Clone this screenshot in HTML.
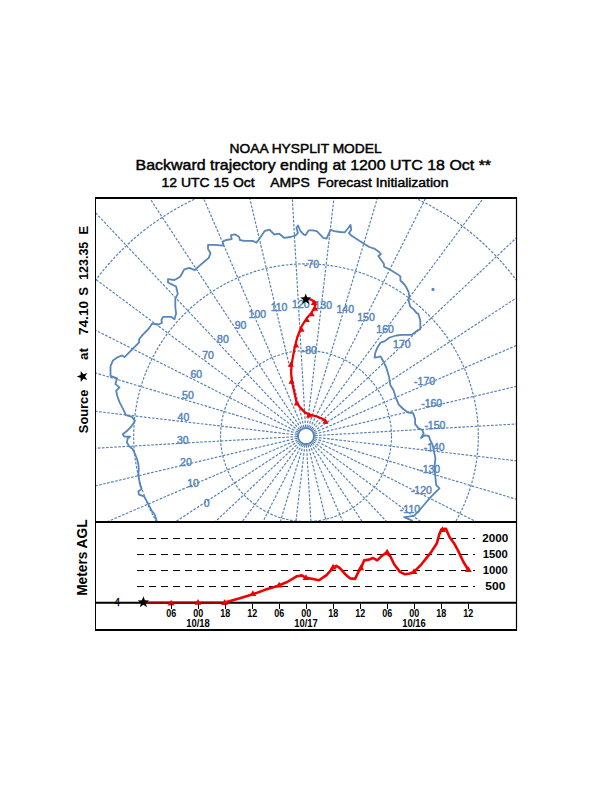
<!DOCTYPE html>
<html><head><meta charset="utf-8"><style>
html,body{margin:0;padding:0;background:#fff;width:612px;height:792px;overflow:hidden}
svg{display:block;font-family:"Liberation Sans",sans-serif}
</style></head><body><svg width="612" height="792" viewBox="0 0 612 792"><defs><clipPath id="mc"><rect x="96" y="199" width="420" height="322"/></clipPath></defs><g clip-path="url(#mc)"><g fill="none" stroke="#527fb3" stroke-width="1.15" stroke-dasharray="2.6 1.5"><circle cx="306.0" cy="436.1" r="85.5"/><circle cx="306.0" cy="436.1" r="172.3"/><circle cx="306.0" cy="436.1" r="261.8"/><circle cx="306.0" cy="436.1" r="355.6"/><line x1="298.5" y1="441.0" x2="-111.9" y2="710.6"/><line x1="297.7" y1="439.7" x2="-153.2" y2="633.9"/><line x1="297.2" y1="438.2" x2="-180.6" y2="551.1"/><line x1="297.0" y1="436.6" x2="-193.2" y2="464.9"/><line x1="297.1" y1="435.0" x2="-190.6" y2="377.8"/><line x1="297.4" y1="433.5" x2="-172.9" y2="292.4"/><line x1="298.0" y1="432.1" x2="-140.7" y2="211.4"/><line x1="298.8" y1="430.7" x2="-94.9" y2="137.3"/><line x1="299.8" y1="429.6" x2="-36.9" y2="72.2"/><line x1="301.1" y1="428.6" x2="31.5" y2="18.2"/><line x1="302.4" y1="427.8" x2="108.2" y2="-23.1"/><line x1="303.9" y1="427.3" x2="191.0" y2="-50.5"/><line x1="305.5" y1="427.1" x2="277.2" y2="-63.1"/><line x1="307.1" y1="427.2" x2="364.3" y2="-60.5"/><line x1="308.6" y1="427.5" x2="449.7" y2="-42.8"/><line x1="310.0" y1="428.1" x2="530.7" y2="-10.6"/><line x1="311.4" y1="428.9" x2="604.8" y2="35.2"/><line x1="312.5" y1="429.9" x2="669.9" y2="93.2"/><line x1="313.5" y1="431.2" x2="723.9" y2="161.6"/><line x1="314.3" y1="432.5" x2="765.2" y2="238.3"/><line x1="314.8" y1="434.0" x2="792.6" y2="321.1"/><line x1="315.0" y1="435.6" x2="805.2" y2="407.3"/><line x1="314.9" y1="437.2" x2="802.6" y2="494.4"/><line x1="314.6" y1="438.7" x2="784.9" y2="579.8"/><line x1="314.0" y1="440.1" x2="752.7" y2="660.8"/><line x1="313.2" y1="441.5" x2="706.9" y2="734.9"/><line x1="312.2" y1="442.6" x2="648.9" y2="800.0"/><line x1="310.9" y1="443.6" x2="580.5" y2="854.0"/><line x1="309.6" y1="444.4" x2="503.8" y2="895.3"/><line x1="308.1" y1="444.9" x2="421.0" y2="922.7"/><line x1="306.5" y1="445.1" x2="334.8" y2="935.3"/><line x1="304.9" y1="445.0" x2="247.7" y2="932.7"/><line x1="303.4" y1="444.7" x2="162.3" y2="915.0"/><line x1="302.0" y1="444.1" x2="81.3" y2="882.8"/><line x1="300.6" y1="443.3" x2="7.2" y2="837.0"/><line x1="299.5" y1="442.3" x2="-57.9" y2="779.0"/></g><circle cx="306.0" cy="436.1" r="8.1" fill="none" stroke="#5886bb" stroke-width="1.9"/><polyline fill="none" stroke="#5886bb" stroke-width="1.8" stroke-linejoin="round" points="156.8,521.0 154.6,514.3 151.4,510.2 147.3,502.1 144.0,496.3 139.1,494.7 138.3,491.4 141.6,489.0 139.9,484.1 138.3,474.3 138.8,469.4 138.3,463.7 136.7,458.0 134.2,452.2 132.6,449.0 129.3,446.5 126.9,442.4 127.7,438.3 130.1,436.7 124.4,436.7 122.8,434.3 127.7,430.2 130.9,426.9 133.9,422.8 135.0,420.9 131.8,416.8 126.0,415.1 122.0,406.9 119.5,402.1 117.1,395.5 116.2,390.6 119.5,387.4 115.4,384.1 117.1,378.4 110.5,375.9 110.5,366.1 113.0,360.4 117.9,357.1 122.0,355.5 124.4,357.1 127.7,353.9 132.6,349.0 139.1,342.4 139.1,339.2 142.4,335.1 148.9,328.5 152.2,323.6 158.7,324.5 162.0,322.8 161.4,320.0 163.1,316.8 171.2,316.8 174.5,319.2 176.1,313.5 175.3,307.0 175.3,298.8 177.8,293.9 176.1,286.5 171.2,284.1 168.0,282.5 168.0,279.2 174.5,280.0 180.2,276.7 184.3,269.4 189.2,267.8 194.9,270.2 199.0,266.1 203.9,262.0 208.8,257.9 210.5,253.0 208.0,249.0 208.0,244.9 214.5,244.9 223.5,245.7 222.7,241.6 226.0,240.0 231.7,239.2 230.9,235.1 235.0,234.3 239.0,236.7 239.9,240.0 244.0,240.8 249.7,240.8 253.1,241.0 256.3,242.7 259.6,238.6 264.5,231.2 269.4,229.6 274.3,234.5 279.2,233.7 284.1,237.8 290.7,237.0 295.6,235.3 298.0,232.9 296.4,228.0 298.0,225.5 300.5,231.2 303.7,234.5 305.4,235.3 308.6,230.4 312.7,230.4 316.8,231.2 323.3,237.8 326.6,238.6 329.1,232.9 330.7,229.6 334.0,231.2 340.0,232.0 344.8,232.3 348.1,228.2 350.5,224.9 351.3,229.8 348.9,233.1 351.3,235.5 362.8,242.9 369.3,247.0 374.2,248.6 379.1,251.9 380.8,254.3 378.3,256.0 384.0,264.1 384.0,266.6 388.9,269.0 397.1,273.9 400.4,276.4 400.4,280.5 404.4,284.5 406.1,287.0 408.5,291.9 409.3,296.0 408.5,300.1 410.2,306.6 413.4,309.1 416.7,313.1 418.4,313.9 420.3,320.5 420.3,329.0 415.8,331.6 411.8,334.8 402.7,334.8 396.1,335.5 389.6,337.5 384.4,341.4 380.5,342.7 377.2,347.9 375.2,353.1 374.6,357.7 377.8,357.1 380.5,356.4 383.1,361.0 386.3,367.5 389.0,376.7 390.3,385.0 393.5,390.2 395.5,396.8 398.8,404.6 402.7,408.5 407.9,412.5 413.1,413.1 415.1,419.0 415.1,424.2 418.4,428.1 422.3,430.1 423.6,433.4 421.0,437.9 424.9,435.3 428.8,436.0 430.1,439.9 432.7,445.1 434.1,451.7 435.4,458.2 434.7,465.0 434.9,472.0 436.2,485.1 439.5,488.3 434.9,492.9 429.7,498.1 423.1,506.0 418.6,511.2 414.0,515.8 404.2,517.1 408.8,519.1 412.7,521.0"/><circle cx="433" cy="289.4" r="1.6" fill="#5886bb"/><g font-size="10.5" fill="#5886bb" stroke="#5886bb" stroke-width="0.45" text-anchor="end"><text x="209.5" y="506.8">0</text><text x="198.9" y="487.1">10</text><text x="191.8" y="465.8">20</text><text x="188.6" y="443.6">30</text><text x="189.3" y="421.2">40</text><text x="193.8" y="399.2">50</text><text x="202.1" y="378.4">60</text><text x="213.9" y="359.3">70</text><text x="228.8" y="342.6">80</text><text x="246.4" y="328.7">90</text><text x="266.1" y="318.1">100</text><text x="287.4" y="311.0">110</text><text x="309.6" y="307.8">120</text><text x="332.0" y="308.5">130</text><text x="354.0" y="313.0">140</text><text x="374.8" y="321.3">150</text><text x="393.9" y="333.1">160</text><text x="410.6" y="348.0">170</text><text x="435.1" y="385.3">&#8208;170</text><text x="442.2" y="406.6">&#8208;160</text><text x="445.4" y="428.8">&#8208;150</text><text x="444.7" y="451.2">&#8208;140</text><text x="440.2" y="473.2">&#8208;130</text><text x="431.9" y="494.0">&#8208;120</text><text x="420.1" y="513.1">&#8208;110</text><text x="319.2" y="267.5">&#8208;70</text><text x="316.9" y="354">&#8208;80</text></g></g><polyline fill="none" stroke="#f00000" stroke-width="2.3" stroke-linejoin="round" stroke-linecap="round" points="305.8,298.7 311.2,299.6 315.5,302.5 314.8,307.0 311.0,313.5 307.0,317.8 301.7,326.1 297.2,337.5 294.6,348.0 293.1,356.1 291.6,364.2 291.1,373.3 292.1,382.3 294.6,393.5 296.6,402.5 300.2,407.6 305.2,412.6 311.3,415.2 317.4,416.7 322.4,418.7 325.9,421.7 326.4,422.7"/><g fill="#f00000"><path d="M312.1,310.8 L318.1,310.8 L315.1,305.6 Z"/><path d="M308.7,316.2 L314.7,316.2 L311.7,311.1 Z"/><path d="M303.9,322.1 L309.9,322.1 L306.9,316.9 Z"/><path d="M298.6,331.8 L304.6,331.8 L301.6,326.6 Z"/><path d="M293.1,347.4 L299.1,347.4 L296.1,342.3 Z"/><path d="M287.8,366.8 L293.8,366.8 L290.8,361.6 Z"/><path d="M288.5,383.8 L294.5,383.8 L291.5,378.6 Z"/><path d="M293.8,405.4 L299.8,405.4 L296.8,400.3 Z"/><path d="M306.0,417.4 L312.0,417.4 L309.0,412.3 Z"/><path d="M322.5,423.8 L328.5,423.8 L325.5,418.6 Z"/><path d="M310.8,304.9 L317.2,304.9 L314.0,299.5 Z"/></g><polygon fill="#000" points="305.7,293.5 307.1,297.3 311.2,297.5 308.0,300.1 309.1,304.0 305.7,301.7 302.3,304.0 303.4,300.1 300.2,297.5 304.3,297.3"/><g fill="none" stroke="#000"><line x1="95" y1="198" x2="517" y2="198" stroke-width="2"/><line x1="95.5" y1="197" x2="95.5" y2="631" stroke-width="1"/><line x1="516.5" y1="197" x2="516.5" y2="631" stroke-width="1.2"/><line x1="95" y1="522" x2="517" y2="522" stroke-width="2"/><line x1="95" y1="602.8" x2="517" y2="602.8" stroke-width="2"/><line x1="95" y1="630" x2="517" y2="630" stroke-width="2"/></g><g stroke="#000" stroke-width="1" stroke-dasharray="7 5"><line x1="137" y1="538.5" x2="475" y2="538.5"/><line x1="137" y1="554.5" x2="475" y2="554.5"/><line x1="137" y1="570.5" x2="475" y2="570.5"/><line x1="137" y1="586.5" x2="475" y2="586.5"/></g><line x1="144" y1="602.6" x2="226" y2="602.6" stroke="#9a0000" stroke-width="2.2"/><polyline fill="none" stroke="#f00000" stroke-width="2.6" stroke-linejoin="round" stroke-linecap="round" points="225.2,602.3 232.0,600.5 239.8,598.3 252.9,594.2 264.3,590.1 277.4,586.0 287.2,582.0 297.0,576.2 301.9,575.4 306.0,577.9 311.7,578.7 319.0,580.3 326.5,575.1 333.1,567.8 336.3,565.8 339.6,567.8 346.1,575.1 350.2,578.4 355.1,578.9 358.4,571.9 360.8,568.6 364.1,560.4 369.0,559.6 373.1,558.0 377.2,560.4 381.3,556.3 386.2,552.7 390.3,556.3 394.3,564.5 400.0,571.9 405.0,574.3 409.9,573.5 414.0,571.9 421.4,564.3 430.6,552.9 436.9,543.2 439.2,534.6 441.5,529.4 446.0,528.9 449.5,536.9 454.0,543.2 458.1,550.6 463.2,561.5 468.4,570.1"/><g fill="#f00000"><path d="M167.7,605.5 L174.5,605.5 L171.1,599.8 Z"/><path d="M194.6,604.8 L201.4,604.8 L198.0,599.1 Z"/><path d="M221.2,605.0 L228.0,605.0 L224.6,599.3 Z"/><path d="M249.5,596.0 L256.3,596.0 L252.9,590.3 Z"/><path d="M275.8,587.5 L282.6,587.5 L279.2,581.8 Z"/><path d="M302.6,580.0 L309.4,580.0 L306.0,574.3 Z"/><path d="M329.7,569.5 L336.5,569.5 L333.1,563.8 Z"/><path d="M357.4,570.3 L364.2,570.3 L360.8,564.6 Z"/><path d="M383.8,554.5 L390.6,554.5 L387.2,548.8 Z"/><path d="M410.6,574.0 L417.4,574.0 L414.0,568.3 Z"/><path d="M439.1,532.0 L445.9,532.0 L442.5,526.3 Z"/><path d="M465.0,572.0 L471.8,572.0 L468.4,566.3 Z"/></g><polygon fill="#000" points="143.4,596.3 144.9,600.3 149.1,600.4 145.8,603.1 146.9,607.2 143.4,604.8 139.9,607.2 141.0,603.1 137.7,600.4 141.9,600.3"/><g stroke="#000" stroke-width="1"><line x1="171.5" y1="603.5" x2="171.5" y2="609"/><line x1="198.5" y1="603.5" x2="198.5" y2="609"/><line x1="225.5" y1="603.5" x2="225.5" y2="609"/><line x1="252.5" y1="603.5" x2="252.5" y2="609"/><line x1="279.5" y1="603.5" x2="279.5" y2="609"/><line x1="306.5" y1="603.5" x2="306.5" y2="609"/><line x1="333.5" y1="603.5" x2="333.5" y2="609"/><line x1="360.5" y1="603.5" x2="360.5" y2="609"/><line x1="387.5" y1="603.5" x2="387.5" y2="609"/><line x1="414.5" y1="603.5" x2="414.5" y2="609"/><line x1="441.5" y1="603.5" x2="441.5" y2="609"/><line x1="468.5" y1="603.5" x2="468.5" y2="609"/></g><g font-size="10.5" font-weight="bold" fill="#000" text-anchor="middle"><text x="171.2" y="617.2" textLength="10" lengthAdjust="spacingAndGlyphs">06</text><text x="198.2" y="617.2" textLength="10" lengthAdjust="spacingAndGlyphs">00</text><text x="225.2" y="617.2" textLength="10" lengthAdjust="spacingAndGlyphs">18</text><text x="252.2" y="617.2" textLength="10" lengthAdjust="spacingAndGlyphs">12</text><text x="279.2" y="617.2" textLength="10" lengthAdjust="spacingAndGlyphs">06</text><text x="306.2" y="617.2" textLength="10" lengthAdjust="spacingAndGlyphs">00</text><text x="333.2" y="617.2" textLength="10" lengthAdjust="spacingAndGlyphs">18</text><text x="360.2" y="617.2" textLength="10" lengthAdjust="spacingAndGlyphs">12</text><text x="387.2" y="617.2" textLength="10" lengthAdjust="spacingAndGlyphs">06</text><text x="414.2" y="617.2" textLength="10" lengthAdjust="spacingAndGlyphs">00</text><text x="441.2" y="617.2" textLength="10" lengthAdjust="spacingAndGlyphs">18</text><text x="468.2" y="617.2" textLength="10" lengthAdjust="spacingAndGlyphs">12</text><text x="198.0" y="626.8" textLength="23.5" lengthAdjust="spacingAndGlyphs">10/18</text><text x="306.0" y="626.8" textLength="23.5" lengthAdjust="spacingAndGlyphs">10/17</text><text x="414.0" y="626.8" textLength="23.5" lengthAdjust="spacingAndGlyphs">10/16</text><text x="117.4" y="605.7" font-weight="normal" font-size="10" stroke="#000" stroke-width="0.3">4</text></g><g font-size="10" font-weight="bold" fill="#000" text-anchor="middle"><text x="495.3" y="541.6" textLength="26.0" lengthAdjust="spacingAndGlyphs">2000</text><text x="495.3" y="557.8" textLength="25.0" lengthAdjust="spacingAndGlyphs">1500</text><text x="495.3" y="573.6" textLength="25.0" lengthAdjust="spacingAndGlyphs">1000</text><text x="495.3" y="589.8" textLength="20.0" lengthAdjust="spacingAndGlyphs">500</text></g><g font-weight="bold" fill="#000" font-size="13"><text font-size="14.0" transform="translate(86.9,595.8) rotate(-90)" textLength="76.3" lengthAdjust="spacingAndGlyphs">Meters AGL</text><text font-size="13.5" transform="translate(87.6,433.2) rotate(-90)" textLength="43.6" lengthAdjust="spacingAndGlyphs">Source</text><text font-size="13.5" transform="translate(87.6,360.0) rotate(-90)" textLength="12.0" lengthAdjust="spacingAndGlyphs">at</text><text font-size="13.5" transform="translate(87.6,335.0) rotate(-90)" textLength="34.0" lengthAdjust="spacingAndGlyphs">74.10</text><text font-size="13.5" transform="translate(87.6,295.7) rotate(-90)" textLength="8.8" lengthAdjust="spacingAndGlyphs">S</text><text font-size="13.5" transform="translate(87.6,279.8) rotate(-90)" textLength="38.0" lengthAdjust="spacingAndGlyphs">123.35</text><text font-size="13.5" transform="translate(87.6,234.8) rotate(-90)" textLength="8.9" lengthAdjust="spacingAndGlyphs">E</text></g><g transform="translate(82.3,376.5) rotate(-90)"><polygon fill="#000" points="0.0,-5.5 1.4,-1.7 5.5,-1.5 2.3,1.1 3.4,5.0 0.0,2.7 -3.4,5.0 -2.3,1.1 -5.5,-1.5 -1.4,-1.7"/></g><g fill="#000" stroke="#000" stroke-width="0.45" text-anchor="start"><text x="229.6" y="153.2" font-size="12.5" textLength="152" lengthAdjust="spacingAndGlyphs">NOAA HYSPLIT MODEL</text><text x="135.6" y="169.6" font-size="15" textLength="355.5" lengthAdjust="spacingAndGlyphs">Backward trajectory ending at 1200 UTC 18 Oct **</text><text x="161.6" y="186.9" font-size="13" textLength="287" lengthAdjust="spacingAndGlyphs">12 UTC 15 Oct &#160;&#160;&#160;AMPS &#160;Forecast Initialization</text></g></svg></body></html>
